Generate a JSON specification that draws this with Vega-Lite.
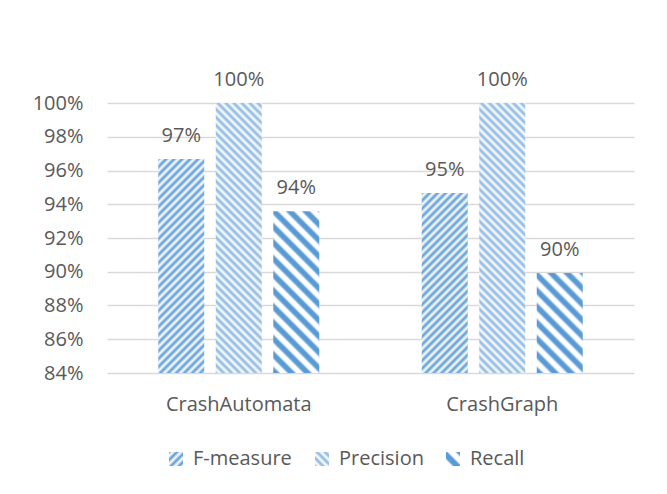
{
  "$schema": "https://vega.github.io/schema/vega-lite/v6.json",
  "width": 527,
  "height": 270,
  "autosize": {"type": "none"},
  "padding": {"left": 107, "top": 103, "right": 33, "bottom": 121},
  "background": "white",
  "config": {
    "view": {"stroke": null},
    "font": "Open Sans",
    "text": {"font": "Open Sans"},
    "legend": {"title": null, "orient": "none", "padding": 0, "symbolType": "square", "symbolSize": 196, "symbolOpacity": 1, "symbolStrokeWidth": 0, "labelFont": "Open Sans", "labelFontSize": 20, "labelColor": "#595959", "labelOffset": 7}
  },
  "data": {
    "values": [
      {"cat": "CrashAutomata", "series": "F-measure", "value": 0.9668},
      {"cat": "CrashAutomata", "series": "Precision", "value": 1.0},
      {"cat": "CrashAutomata", "series": "Recall", "value": 0.9358},
      {"cat": "CrashGraph", "series": "F-measure", "value": 0.9467},
      {"cat": "CrashGraph", "series": "Precision", "value": 1.0},
      {"cat": "CrashGraph", "series": "Recall", "value": 0.8993}
    ]
  },
  "resolve": {"scale": {"shape": "independent"}, "legend": {"shape": "independent"}},
  "encoding": {
    "x": {
      "field": "cat", "type": "nominal", "title": null,
      "scale": {"paddingInner": 0, "paddingOuter": 0},
      "axis": {"labelAngle": 0, "labelFont": "Open Sans", "labelFontSize": 20, "labelColor": "#595959", "labelPadding": 21, "domain": false, "ticks": false, "grid": false}
    },
    "xOffset": {
      "field": "series", "type": "nominal",
      "scale": {"domain": ["F-measure", "Precision", "Recall"], "paddingInner": 0.2, "paddingOuter": 0.891}
    },
    "y": {
      "field": "value", "type": "quantitative", "title": null,
      "scale": {"domain": [0.84, 1.0], "zero": false, "nice": false},
      "axis": {"values": [0.84, 0.86, 0.88, 0.9, 0.92, 0.94, 0.96, 0.98, 1.0], "format": ".0%", "labelFont": "Open Sans", "labelFontSize": 20, "labelColor": "#595959", "labelPadding": 24, "domain": false, "ticks": false, "gridColor": "#d9d9d9", "gridWidth": 1.3}
    }
  },
  "layer": [
    {
      "transform": [{"filter": "datum.cat === 'CrashAutomata' && datum.series === 'F-measure'"}],
      "mark": {"type": "bar", "fill": {"gradient": "linear", "x1": 0, "y1": 0, "x2": 0.3840, "y2": 1.7866, "stops": [
        {"offset":0,"color":"#5b9bd5"},{"offset":0.01,"color":"#fff"},{"offset":0.02,"color":"#5b9bd5"},{"offset":0.03,"color":"#fff"},{"offset":0.04,"color":"#5b9bd5"},{"offset":0.05,"color":"#fff"},{"offset":0.06,"color":"#5b9bd5"},{"offset":0.07,"color":"#fff"},{"offset":0.08,"color":"#5b9bd5"},{"offset":0.09,"color":"#fff"},
        {"offset":0.10,"color":"#5b9bd5"},{"offset":0.11,"color":"#fff"},{"offset":0.12,"color":"#5b9bd5"},{"offset":0.13,"color":"#fff"},{"offset":0.14,"color":"#5b9bd5"},{"offset":0.15,"color":"#fff"},{"offset":0.16,"color":"#5b9bd5"},{"offset":0.17,"color":"#fff"},{"offset":0.18,"color":"#5b9bd5"},{"offset":0.19,"color":"#fff"},
        {"offset":0.20,"color":"#5b9bd5"},{"offset":0.21,"color":"#fff"},{"offset":0.22,"color":"#5b9bd5"},{"offset":0.23,"color":"#fff"},{"offset":0.24,"color":"#5b9bd5"},{"offset":0.25,"color":"#fff"},{"offset":0.26,"color":"#5b9bd5"},{"offset":0.27,"color":"#fff"},{"offset":0.28,"color":"#5b9bd5"},{"offset":0.29,"color":"#fff"},
        {"offset":0.30,"color":"#5b9bd5"},{"offset":0.31,"color":"#fff"},{"offset":0.32,"color":"#5b9bd5"},{"offset":0.33,"color":"#fff"},{"offset":0.34,"color":"#5b9bd5"},{"offset":0.35,"color":"#fff"},{"offset":0.36,"color":"#5b9bd5"},{"offset":0.37,"color":"#fff"},{"offset":0.38,"color":"#5b9bd5"},{"offset":0.39,"color":"#fff"},
        {"offset":0.40,"color":"#5b9bd5"},{"offset":0.41,"color":"#fff"},{"offset":0.42,"color":"#5b9bd5"},{"offset":0.43,"color":"#fff"},{"offset":0.44,"color":"#5b9bd5"},{"offset":0.45,"color":"#fff"},{"offset":0.46,"color":"#5b9bd5"},{"offset":0.47,"color":"#fff"},{"offset":0.48,"color":"#5b9bd5"},{"offset":0.49,"color":"#fff"},
        {"offset":0.50,"color":"#5b9bd5"},{"offset":0.51,"color":"#fff"},{"offset":0.52,"color":"#5b9bd5"},{"offset":0.53,"color":"#fff"},{"offset":0.54,"color":"#5b9bd5"},{"offset":0.55,"color":"#fff"},{"offset":0.56,"color":"#5b9bd5"},{"offset":0.57,"color":"#fff"},{"offset":0.58,"color":"#5b9bd5"},{"offset":0.59,"color":"#fff"},
        {"offset":0.60,"color":"#5b9bd5"},{"offset":0.61,"color":"#fff"},{"offset":0.62,"color":"#5b9bd5"},{"offset":0.63,"color":"#fff"},{"offset":0.64,"color":"#5b9bd5"},{"offset":0.65,"color":"#fff"},{"offset":0.66,"color":"#5b9bd5"}
      ]}},
      "encoding": {"y2": {"datum": 0.84}}
    },
    {
      "transform": [{"filter": "datum.cat === 'CrashGraph' && datum.series === 'F-measure'"}],
      "mark": {"type": "bar", "fill": {"gradient": "linear", "x1": 0, "y1": 0, "x2": 0.5326, "y2": 2.0851, "stops": [
        {"offset":0,"color":"#5b9bd5"},{"offset":0.01,"color":"#fff"},{"offset":0.02,"color":"#5b9bd5"},{"offset":0.03,"color":"#fff"},{"offset":0.04,"color":"#5b9bd5"},{"offset":0.05,"color":"#fff"},{"offset":0.06,"color":"#5b9bd5"},{"offset":0.07,"color":"#fff"},{"offset":0.08,"color":"#5b9bd5"},{"offset":0.09,"color":"#fff"},
        {"offset":0.10,"color":"#5b9bd5"},{"offset":0.11,"color":"#fff"},{"offset":0.12,"color":"#5b9bd5"},{"offset":0.13,"color":"#fff"},{"offset":0.14,"color":"#5b9bd5"},{"offset":0.15,"color":"#fff"},{"offset":0.16,"color":"#5b9bd5"},{"offset":0.17,"color":"#fff"},{"offset":0.18,"color":"#5b9bd5"},{"offset":0.19,"color":"#fff"},
        {"offset":0.20,"color":"#5b9bd5"},{"offset":0.21,"color":"#fff"},{"offset":0.22,"color":"#5b9bd5"},{"offset":0.23,"color":"#fff"},{"offset":0.24,"color":"#5b9bd5"},{"offset":0.25,"color":"#fff"},{"offset":0.26,"color":"#5b9bd5"},{"offset":0.27,"color":"#fff"},{"offset":0.28,"color":"#5b9bd5"},{"offset":0.29,"color":"#fff"},
        {"offset":0.30,"color":"#5b9bd5"},{"offset":0.31,"color":"#fff"},{"offset":0.32,"color":"#5b9bd5"},{"offset":0.33,"color":"#fff"},{"offset":0.34,"color":"#5b9bd5"},{"offset":0.35,"color":"#fff"},{"offset":0.36,"color":"#5b9bd5"},{"offset":0.37,"color":"#fff"},{"offset":0.38,"color":"#5b9bd5"},{"offset":0.39,"color":"#fff"},
        {"offset":0.40,"color":"#5b9bd5"},{"offset":0.41,"color":"#fff"},{"offset":0.42,"color":"#5b9bd5"},{"offset":0.43,"color":"#fff"},{"offset":0.44,"color":"#5b9bd5"},{"offset":0.45,"color":"#fff"},{"offset":0.46,"color":"#5b9bd5"},{"offset":0.47,"color":"#fff"},{"offset":0.48,"color":"#5b9bd5"},{"offset":0.49,"color":"#fff"},
        {"offset":0.50,"color":"#5b9bd5"},{"offset":0.51,"color":"#fff"},{"offset":0.52,"color":"#5b9bd5"},{"offset":0.53,"color":"#fff"},{"offset":0.54,"color":"#5b9bd5"},{"offset":0.55,"color":"#fff"},{"offset":0.56,"color":"#5b9bd5"},{"offset":0.57,"color":"#fff"},{"offset":0.58,"color":"#5b9bd5"}
      ]}},
      "encoding": {"y2": {"datum": 0.84}}
    },
    {
      "transform": [{"filter": "datum.series === 'Precision'"}],
      "mark": {"type": "bar", "fill": {"gradient": "linear", "x1": 0, "y1": 1, "x2": 0.2453, "y2": -0.4397, "stops": [
        {"offset":0,"color":"#8ab6e2"},{"offset":0.01,"color":"#fff"},{"offset":0.02,"color":"#8ab6e2"},{"offset":0.03,"color":"#fff"},{"offset":0.04,"color":"#8ab6e2"},{"offset":0.05,"color":"#fff"},{"offset":0.06,"color":"#8ab6e2"},{"offset":0.07,"color":"#fff"},{"offset":0.08,"color":"#8ab6e2"},{"offset":0.09,"color":"#fff"},
        {"offset":0.10,"color":"#8ab6e2"},{"offset":0.11,"color":"#fff"},{"offset":0.12,"color":"#8ab6e2"},{"offset":0.13,"color":"#fff"},{"offset":0.14,"color":"#8ab6e2"},{"offset":0.15,"color":"#fff"},{"offset":0.16,"color":"#8ab6e2"},{"offset":0.17,"color":"#fff"},{"offset":0.18,"color":"#8ab6e2"},{"offset":0.19,"color":"#fff"},
        {"offset":0.20,"color":"#8ab6e2"},{"offset":0.21,"color":"#fff"},{"offset":0.22,"color":"#8ab6e2"},{"offset":0.23,"color":"#fff"},{"offset":0.24,"color":"#8ab6e2"},{"offset":0.25,"color":"#fff"},{"offset":0.26,"color":"#8ab6e2"},{"offset":0.27,"color":"#fff"},{"offset":0.28,"color":"#8ab6e2"},{"offset":0.29,"color":"#fff"},
        {"offset":0.30,"color":"#8ab6e2"},{"offset":0.31,"color":"#fff"},{"offset":0.32,"color":"#8ab6e2"},{"offset":0.33,"color":"#fff"},{"offset":0.34,"color":"#8ab6e2"},{"offset":0.35,"color":"#fff"},{"offset":0.36,"color":"#8ab6e2"},{"offset":0.37,"color":"#fff"},{"offset":0.38,"color":"#8ab6e2"},{"offset":0.39,"color":"#fff"},
        {"offset":0.40,"color":"#8ab6e2"},{"offset":0.41,"color":"#fff"},{"offset":0.42,"color":"#8ab6e2"},{"offset":0.43,"color":"#fff"},{"offset":0.44,"color":"#8ab6e2"},{"offset":0.45,"color":"#fff"},{"offset":0.46,"color":"#8ab6e2"},{"offset":0.47,"color":"#fff"},{"offset":0.48,"color":"#8ab6e2"},{"offset":0.49,"color":"#fff"},
        {"offset":0.50,"color":"#8ab6e2"},{"offset":0.51,"color":"#fff"},{"offset":0.52,"color":"#8ab6e2"},{"offset":0.53,"color":"#fff"},{"offset":0.54,"color":"#8ab6e2"},{"offset":0.55,"color":"#fff"},{"offset":0.56,"color":"#8ab6e2"},{"offset":0.57,"color":"#fff"},{"offset":0.58,"color":"#8ab6e2"},{"offset":0.59,"color":"#fff"},
        {"offset":0.60,"color":"#8ab6e2"},{"offset":0.61,"color":"#fff"},{"offset":0.62,"color":"#8ab6e2"},{"offset":0.63,"color":"#fff"},{"offset":0.64,"color":"#8ab6e2"},{"offset":0.65,"color":"#fff"},{"offset":0.66,"color":"#8ab6e2"},{"offset":0.67,"color":"#fff"},{"offset":0.68,"color":"#8ab6e2"},{"offset":0.69,"color":"#fff"},
        {"offset":0.70,"color":"#8ab6e2"},{"offset":0.71,"color":"#fff"},{"offset":0.72,"color":"#8ab6e2"},{"offset":0.73,"color":"#fff"},{"offset":0.74,"color":"#8ab6e2"},{"offset":0.75,"color":"#fff"},{"offset":0.76,"color":"#8ab6e2"},{"offset":0.77,"color":"#fff"},{"offset":0.78,"color":"#8ab6e2"},{"offset":0.79,"color":"#fff"},
        {"offset":0.80,"color":"#8ab6e2"}
      ]}},
      "encoding": {"y2": {"datum": 0.84}}
    },
    {
      "transform": [{"filter": "datum.cat === 'CrashAutomata' && datum.series === 'Recall'"}],
      "mark": {"type": "bar", "fill": {"gradient": "linear", "x1": 0, "y1": 1, "x2": 0.6510, "y2": -1.2885, "stops": [
        {"offset":0,"color":"#5b9bd5"},{"offset":0.012,"color":"#5b9bd5"},{"offset":0.02,"color":"#fff"},{"offset":0.032,"color":"#fff"},
        {"offset":0.04,"color":"#5b9bd5"},{"offset":0.052,"color":"#5b9bd5"},{"offset":0.06,"color":"#fff"},{"offset":0.072,"color":"#fff"},
        {"offset":0.08,"color":"#5b9bd5"},{"offset":0.092,"color":"#5b9bd5"},{"offset":0.1,"color":"#fff"},{"offset":0.112,"color":"#fff"},
        {"offset":0.12,"color":"#5b9bd5"},{"offset":0.132,"color":"#5b9bd5"},{"offset":0.14,"color":"#fff"},{"offset":0.152,"color":"#fff"},
        {"offset":0.16,"color":"#5b9bd5"},{"offset":0.172,"color":"#5b9bd5"},{"offset":0.18,"color":"#fff"},{"offset":0.192,"color":"#fff"},
        {"offset":0.2,"color":"#5b9bd5"},{"offset":0.212,"color":"#5b9bd5"},{"offset":0.22,"color":"#fff"},{"offset":0.232,"color":"#fff"},
        {"offset":0.24,"color":"#5b9bd5"},{"offset":0.252,"color":"#5b9bd5"},{"offset":0.26,"color":"#fff"},{"offset":0.272,"color":"#fff"},
        {"offset":0.28,"color":"#5b9bd5"},{"offset":0.292,"color":"#5b9bd5"},{"offset":0.3,"color":"#fff"},{"offset":0.312,"color":"#fff"},
        {"offset":0.32,"color":"#5b9bd5"},{"offset":0.332,"color":"#5b9bd5"},{"offset":0.34,"color":"#fff"},{"offset":0.352,"color":"#fff"},
        {"offset":0.36,"color":"#5b9bd5"},{"offset":0.372,"color":"#5b9bd5"},{"offset":0.38,"color":"#fff"},{"offset":0.392,"color":"#fff"},
        {"offset":0.4,"color":"#5b9bd5"},{"offset":0.412,"color":"#5b9bd5"},{"offset":0.42,"color":"#fff"},{"offset":0.432,"color":"#fff"},
        {"offset":0.44,"color":"#5b9bd5"},{"offset":0.452,"color":"#5b9bd5"},{"offset":0.46,"color":"#fff"},{"offset":0.472,"color":"#fff"},
        {"offset":0.48,"color":"#5b9bd5"},{"offset":0.492,"color":"#5b9bd5"},{"offset":0.5,"color":"#fff"},{"offset":0.512,"color":"#fff"},
        {"offset":0.52,"color":"#5b9bd5"},{"offset":0.532,"color":"#5b9bd5"}
      ]}},
      "encoding": {"y2": {"datum": 0.84}}
    },
    {
      "transform": [{"filter": "datum.cat === 'CrashGraph' && datum.series === 'Recall'"}],
      "mark": {"type": "bar", "fill": {"gradient": "linear", "x1": 0, "y1": 1, "x2": 1.5161, "y2": -2.2992, "stops": [
        {"offset":0,"color":"#5b9bd5"},{"offset":0.012,"color":"#5b9bd5"},{"offset":0.02,"color":"#fff"},{"offset":0.032,"color":"#fff"},
        {"offset":0.04,"color":"#5b9bd5"},{"offset":0.052,"color":"#5b9bd5"},{"offset":0.06,"color":"#fff"},{"offset":0.072,"color":"#fff"},
        {"offset":0.08,"color":"#5b9bd5"},{"offset":0.092,"color":"#5b9bd5"},{"offset":0.1,"color":"#fff"},{"offset":0.112,"color":"#fff"},
        {"offset":0.12,"color":"#5b9bd5"},{"offset":0.132,"color":"#5b9bd5"},{"offset":0.14,"color":"#fff"},{"offset":0.152,"color":"#fff"},
        {"offset":0.16,"color":"#5b9bd5"},{"offset":0.172,"color":"#5b9bd5"},{"offset":0.18,"color":"#fff"},{"offset":0.192,"color":"#fff"},
        {"offset":0.2,"color":"#5b9bd5"},{"offset":0.212,"color":"#5b9bd5"},{"offset":0.22,"color":"#fff"},{"offset":0.232,"color":"#fff"},
        {"offset":0.24,"color":"#5b9bd5"},{"offset":0.252,"color":"#5b9bd5"},{"offset":0.26,"color":"#fff"},{"offset":0.272,"color":"#fff"},
        {"offset":0.28,"color":"#5b9bd5"},{"offset":0.292,"color":"#5b9bd5"},{"offset":0.3,"color":"#fff"},{"offset":0.312,"color":"#fff"},
        {"offset":0.32,"color":"#5b9bd5"},{"offset":0.332,"color":"#5b9bd5"},{"offset":0.34,"color":"#fff"},{"offset":0.352,"color":"#fff"},
        {"offset":0.36,"color":"#5b9bd5"},{"offset":0.372,"color":"#5b9bd5"}
      ]}},
      "encoding": {"y2": {"datum": 0.84}}
    },
    {
      "mark": {"type": "text", "baseline": "alphabetic", "dy": -17, "font": "Open Sans", "fontSize": 20, "fill": "#595959"},
      "encoding": {"text": {"field": "value", "type": "quantitative", "format": ".0%"}}
    },
    {
      "transform": [{"filter": "datum.series === 'F-measure'"}],
      "mark": {"type": "point", "filled": true, "opacity": 0, "size": 196, "fill": {"gradient": "linear", "x1": 0, "y1": 0, "x2": 1, "y2": 1, "stops": [{"offset": 0, "color": "#5b9bd5"}, {"offset": 0.143, "color": "#fff"}, {"offset": 0.286, "color": "#5b9bd5"}, {"offset": 0.429, "color": "#fff"}, {"offset": 0.571, "color": "#5b9bd5"}, {"offset": 0.714, "color": "#fff"}, {"offset": 0.857, "color": "#5b9bd5"}, {"offset": 1, "color": "#fff"}]}},
      "encoding": {
        "shape": {"field": "series", "type": "nominal", "scale": {"domain": ["F-measure"], "range": ["square"]}, "legend": {"legendX": 59, "legendY": 346}}
      }
    },
    {
      "transform": [{"filter": "datum.series === 'Precision'"}],
      "mark": {"type": "point", "filled": true, "opacity": 0, "size": 196, "fill": {"gradient": "linear", "x1": 0, "y1": 1, "x2": 1, "y2": 0, "stops": [{"offset": 0, "color": "#8ab6e2"}, {"offset": 0.143, "color": "#fff"}, {"offset": 0.286, "color": "#8ab6e2"}, {"offset": 0.429, "color": "#fff"}, {"offset": 0.571, "color": "#8ab6e2"}, {"offset": 0.714, "color": "#fff"}, {"offset": 0.857, "color": "#8ab6e2"}, {"offset": 1, "color": "#fff"}]}},
      "encoding": {
        "shape": {"field": "series", "type": "nominal", "scale": {"domain": ["Precision"], "range": ["square"]}, "legend": {"legendX": 205, "legendY": 346}}
      }
    },
    {
      "transform": [{"filter": "datum.series === 'Recall'"}],
      "mark": {"type": "point", "filled": true, "opacity": 0, "size": 196, "fill": {"gradient": "linear", "x1": 0, "y1": 1, "x2": 1, "y2": 0, "stops": [{"offset": 0, "color": "#fff"}, {"offset": 0.2, "color": "#fff"}, {"offset": 0.3, "color": "#5b9bd5"}, {"offset": 0.5, "color": "#5b9bd5"}, {"offset": 0.6, "color": "#fff"}, {"offset": 0.8, "color": "#fff"}, {"offset": 0.9, "color": "#5b9bd5"}, {"offset": 1, "color": "#5b9bd5"}]}},
      "encoding": {
        "shape": {"field": "series", "type": "nominal", "scale": {"domain": ["Recall"], "range": ["square"]}, "legend": {"legendX": 336, "legendY": 346}}
      }
    }
  ]
}
